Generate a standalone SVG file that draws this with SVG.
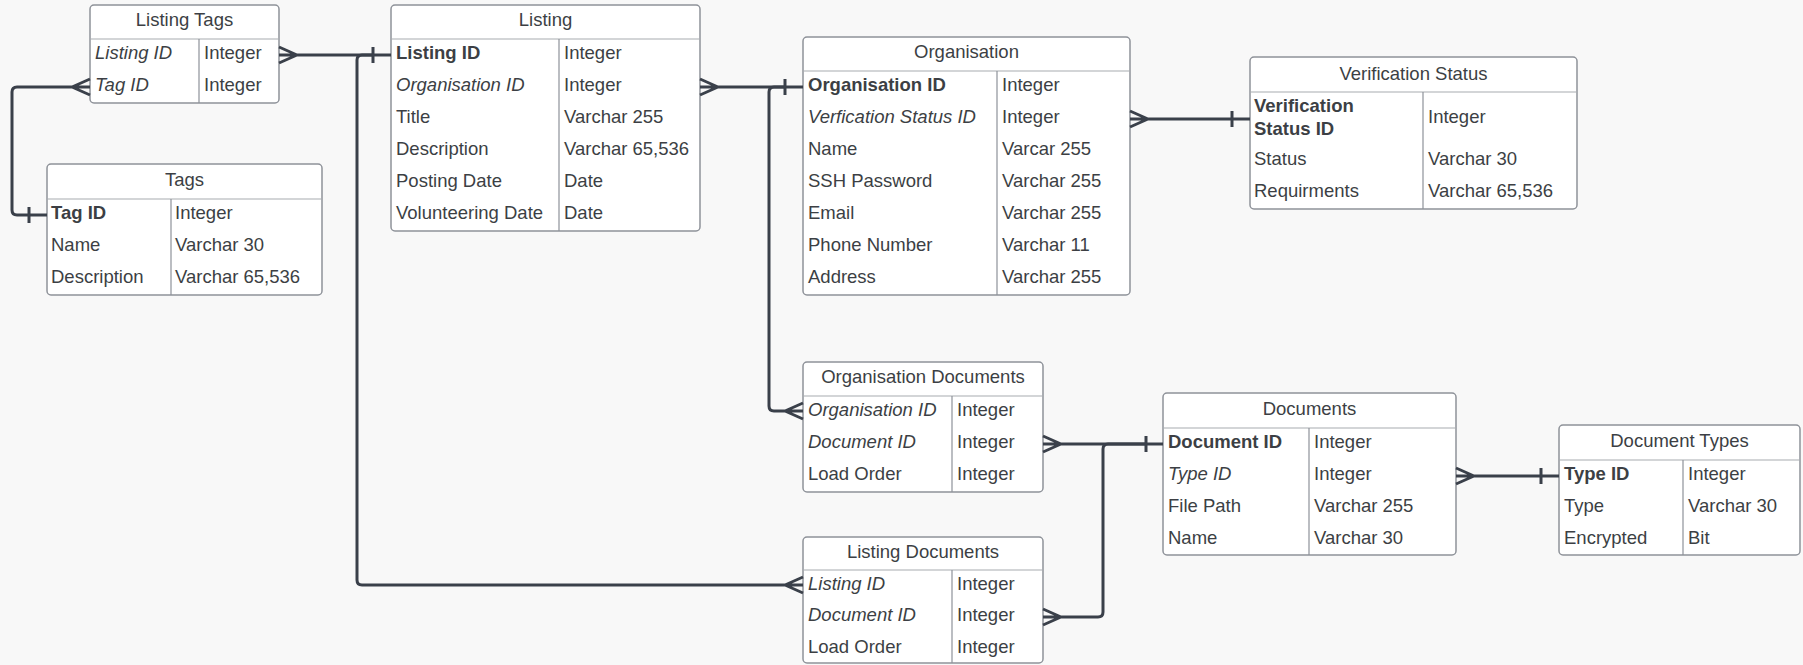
<svg xmlns="http://www.w3.org/2000/svg" width="1803" height="665" viewBox="0 0 1803 665">
<style>
.bg{fill:#f8f8f8}
.box{fill:#ffffff;stroke:#8e9299;stroke-width:1.5}
.sep{stroke:#a8abb0;stroke-width:1.2}
.div{stroke:#8e9299;stroke-width:1.2}
text{font-family:"Liberation Sans",Arial,sans-serif;font-size:18.5px;fill:#3c3f44;transform:translate(0px,-2px)}
.h{text-anchor:middle}
.pk{font-weight:bold}
.fk{font-style:italic}
.c{fill:none;stroke:#3a404a;stroke-width:3;stroke-linejoin:round;stroke-linecap:butt}
</style>
<rect class="bg" x="0" y="0" width="1803" height="665"/>

<g id="listing-tags">
<rect class="box" x="90" y="5" width="189" height="98" rx="4"/>
<line class="sep" x1="90" y1="39" x2="279" y2="39"/>
<line class="div" x1="199" y1="39" x2="199" y2="103"/>
<text class="h" x="184.5" y="28">Listing Tags</text>
<text class="fk" x="95" y="60.5">Listing ID</text><text x="204" y="60.5">Integer</text>
<text class="fk" x="95" y="92.5">Tag ID</text><text x="204" y="92.5">Integer</text>
</g>

<g id="tags">
<rect class="box" x="47" y="164" width="275" height="131" rx="4"/>
<line class="sep" x1="47" y1="199" x2="322" y2="199"/>
<line class="div" x1="171" y1="199" x2="171" y2="295"/>
<text class="h" x="184.5" y="188">Tags</text>
<text class="pk" x="51" y="220.5">Tag ID</text><text x="175" y="220.5">Integer</text>
<text x="51" y="252.5">Name</text><text x="175" y="252.5">Varchar 30</text>
<text x="51" y="284.5">Description</text><text x="175" y="284.5">Varchar 65,536</text>
</g>

<g id="listing">
<rect class="box" x="391" y="5" width="309" height="226" rx="4"/>
<line class="sep" x1="391" y1="39" x2="700" y2="39"/>
<line class="div" x1="559" y1="39" x2="559" y2="231"/>
<text class="h" x="545.5" y="28">Listing</text>
<text class="pk" x="396" y="60.5">Listing ID</text><text x="564" y="60.5">Integer</text>
<text class="fk" x="396" y="92.5">Organisation ID</text><text x="564" y="92.5">Integer</text>
<text x="396" y="124.5">Title</text><text x="564" y="124.5">Varchar 255</text>
<text x="396" y="156.5">Description</text><text x="564" y="156.5">Varchar 65,536</text>
<text x="396" y="188.5">Posting Date</text><text x="564" y="188.5">Date</text>
<text x="396" y="220.5">Volunteering Date</text><text x="564" y="220.5">Date</text>
</g>

<g id="organisation">
<rect class="box" x="803" y="37" width="327" height="258" rx="4"/>
<line class="sep" x1="803" y1="71" x2="1130" y2="71"/>
<line class="div" x1="997" y1="71" x2="997" y2="295"/>
<text class="h" x="966.5" y="60">Organisation</text>
<text class="pk" x="808" y="92.5">Organisation ID</text><text x="1002" y="92.5">Integer</text>
<text class="fk" x="808" y="124.5">Verfication Status ID</text><text x="1002" y="124.5">Integer</text>
<text x="808" y="156.5">Name</text><text x="1002" y="156.5">Varcar 255</text>
<text x="808" y="188.5">SSH Password</text><text x="1002" y="188.5">Varchar 255</text>
<text x="808" y="220.5">Email</text><text x="1002" y="220.5">Varchar 255</text>
<text x="808" y="252.5">Phone Number</text><text x="1002" y="252.5">Varchar 11</text>
<text x="808" y="284.5">Address</text><text x="1002" y="284.5">Varchar 255</text>
</g>

<g id="verification-status">
<rect class="box" x="1250" y="57" width="327" height="152" rx="4"/>
<line class="sep" x1="1250" y1="92" x2="1577" y2="92"/>
<line class="div" x1="1423" y1="92" x2="1423" y2="209"/>
<text class="h" x="1413.5" y="82">Verification Status</text>
<text class="pk" x="1254" y="114">Verification</text>
<text class="pk" x="1254" y="137">Status ID</text>
<text x="1428" y="125">Integer</text>
<text x="1254" y="167">Status</text><text x="1428" y="167">Varchar 30</text>
<text x="1254" y="199">Requirments</text><text x="1428" y="199">Varchar 65,536</text>
</g>

<g id="organisation-documents">
<rect class="box" x="803" y="362" width="240" height="130" rx="4"/>
<line class="sep" x1="803" y1="396" x2="1043" y2="396"/>
<line class="div" x1="952" y1="396" x2="952" y2="492"/>
<text class="h" x="923" y="385">Organisation Documents</text>
<text class="fk" x="808" y="417.5">Organisation ID</text><text x="957" y="417.5">Integer</text>
<text class="fk" x="808" y="449.5">Document ID</text><text x="957" y="449.5">Integer</text>
<text x="808" y="481.5">Load Order</text><text x="957" y="481.5">Integer</text>
</g>

<g id="listing-documents">
<rect class="box" x="803" y="537" width="240" height="126" rx="4"/>
<line class="sep" x1="803" y1="570" x2="1043" y2="570"/>
<line class="div" x1="952" y1="570" x2="952" y2="663"/>
<text class="h" x="923" y="560">Listing Documents</text>
<text class="fk" x="808" y="591.5">Listing ID</text><text x="957" y="591.5">Integer</text>
<text class="fk" x="808" y="623">Document ID</text><text x="957" y="623">Integer</text>
<text x="808" y="655">Load Order</text><text x="957" y="655">Integer</text>
</g>

<g id="documents">
<rect class="box" x="1163" y="393" width="293" height="162" rx="4"/>
<line class="sep" x1="1163" y1="428" x2="1456" y2="428"/>
<line class="div" x1="1309" y1="428" x2="1309" y2="555"/>
<text class="h" x="1309.5" y="417">Documents</text>
<text class="pk" x="1168" y="449.5">Document ID</text><text x="1314" y="449.5">Integer</text>
<text class="fk" x="1168" y="481.5">Type ID</text><text x="1314" y="481.5">Integer</text>
<text x="1168" y="513.5">File Path</text><text x="1314" y="513.5">Varchar 255</text>
<text x="1168" y="545.5">Name</text><text x="1314" y="545.5">Varchar 30</text>
</g>

<g id="document-types">
<rect class="box" x="1559" y="425" width="241" height="130" rx="4"/>
<line class="sep" x1="1559" y1="460" x2="1800" y2="460"/>
<line class="div" x1="1683" y1="460" x2="1683" y2="555"/>
<text class="h" x="1679.5" y="449">Document Types</text>
<text class="pk" x="1564" y="481.5">Type ID</text><text x="1688" y="481.5">Integer</text>
<text x="1564" y="513.5">Type</text><text x="1688" y="513.5">Varchar 30</text>
<text x="1564" y="545.5">Encrypted</text><text x="1688" y="545.5">Bit</text>
</g>

<g id="connectors">
<path class="c" d="M279,55 H391 M279,47 L297,55 L279,63 M373,47 V63"/>
<path class="c" d="M373,55 H362 Q357,55 357,60 V580 Q357,585 362,585 H803 M803,577 L785,585 L803,593"/>
<path class="c" d="M47,215 H17 Q12,215 12,210 V92 Q12,87 17,87 H90 M29,207 V223 M90,79 L72,87 L90,95"/>
<path class="c" d="M700,87 H803 M700,79 L718,87 L700,95 M785,79 V95"/>
<path class="c" d="M785,87 H774 Q769,87 769,92 V406 Q769,411 774,411 H803 M803,403 L785,411 L803,419"/>
<path class="c" d="M1130,119 H1250 M1130,111 L1148,119 L1130,127 M1232,111 V127"/>
<path class="c" d="M1043,444 H1163 M1043,436 L1061,444 L1043,452 M1146,436 V452"/>
<path class="c" d="M1146,444 H1108 Q1103,444 1103,449 V612 Q1103,617 1098,617 H1043 M1043,609 L1061,617 L1043,625"/>
<path class="c" d="M1456,476 H1559 M1456,468 L1474,476 L1456,484 M1541,468 V484"/>
</g>
</svg>
